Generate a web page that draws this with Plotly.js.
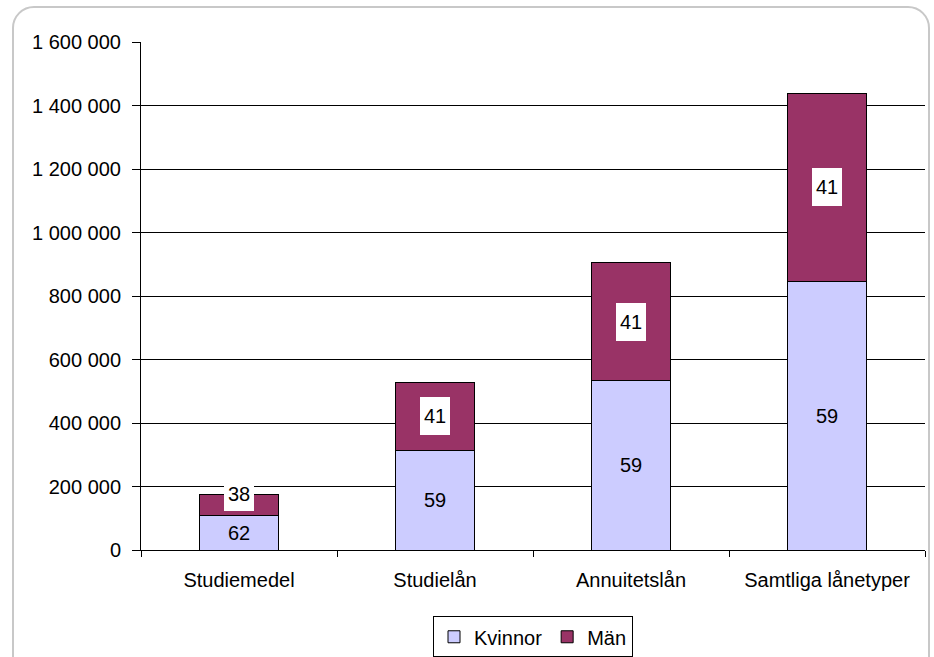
<!DOCTYPE html>
<html>
<head>
<meta charset="utf-8">
<script src="https://cdn.plot.ly/plotly-3.0.1.min.js"></script>
<style>
html,body{margin:0;padding:0;background:#fff;}
#wrap{position:relative;width:934px;height:657px;overflow:hidden;}
#chart{position:absolute;left:0;top:0;width:934px;height:657px;}
#frame{position:absolute;left:12px;top:6px;width:918px;height:700px;border:2px solid #c8c8c8;border-radius:22px;pointer-events:none;box-sizing:border-box;}
</style>
</head>
<body>
<div id="wrap"><div id="chart"></div><div id="frame"></div></div>
<script>
const categories = ["Studiemedel", "Studielån", "Annuitetslån", "Samtliga lånetyper"];
const kvinnor = [110000, 312000, 533000, 847000];
const man = [66000, 217000, 371000, 591000];
const kvinnorPct = ["62", "59", "59", "59"];
const manPct = ["38", "41", "41", "41"];

const font = {family: "Liberation Sans, Arial, sans-serif", size: 20, color: "#000"};

const traces = [
  {type: "bar", name: "Kvinnor", x: categories, y: kvinnor,
   marker: {color: "#CCCCFF", line: {color: "#000", width: 1}}, hoverinfo: "none"},
  {type: "bar", name: "Män", x: categories, y: man,
   marker: {color: "#993366", line: {color: "#000", width: 1}}, hoverinfo: "none"}
];

const annotations = [];
categories.forEach((c, i) => {
  annotations.push({x: c, y: kvinnor[i] / 2, xref: "x", yref: "y", text: kvinnorPct[i],
    showarrow: false, font: font});
  const small = man[i] < 100000;
  annotations.push({x: c, y: kvinnor[i] + man[i] / 2, xref: "x", yref: "y", text: manPct[i],
    showarrow: false, font: font, bgcolor: "#fff", width: 26, height: small ? 26 : 34,
    borderpad: 2, borderwidth: 0, yshift: small ? 9 : 0, valign: small ? "top" : "middle"});
});

const layout = {
  width: 934, height: 657,
  margin: {l: 141, r: 9, t: 42, b: 107, autoexpand: false},
  paper_bgcolor: "rgba(0,0,0,0)", plot_bgcolor: "#fff",
  barmode: "stack", bargap: 0.6,
  separators: ", ",
  font: font,
  showlegend: true,
  legend: {orientation: "h", x: 0.5, xanchor: "center", xref: "paper",
    y: 0.062, yanchor: "top", yref: "container",
    bordercolor: "#000", borderwidth: 1, font: font, traceorder: "normal",
    itemwidth: 30, tracegroupgap: 0, entrywidth: 0},
  xaxis: {type: "category", showline: true, linecolor: "#000", linewidth: 1,
    ticks: "outside", tickson: "boundaries", ticklen: 6, tickcolor: "#000",
    ticklabelstandoff: 12,
    showgrid: false, tickfont: font, fixedrange: true, automargin: false},
  yaxis: {range: [0, 1600000], dtick: 200000, tickformat: ",d",
    showline: true, linecolor: "#000", linewidth: 1,
    ticks: "outside", ticklen: 8, tickcolor: "#000", ticklabelstandoff: 7,
    showgrid: true, gridcolor: "#000", gridwidth: 1, zeroline: false,
    tickfont: font, fixedrange: true, automargin: false},
  annotations: annotations
};

Plotly.newPlot("chart", traces, layout, {displayModeBar: false, staticPlot: true});
</script>
</body>
</html>
